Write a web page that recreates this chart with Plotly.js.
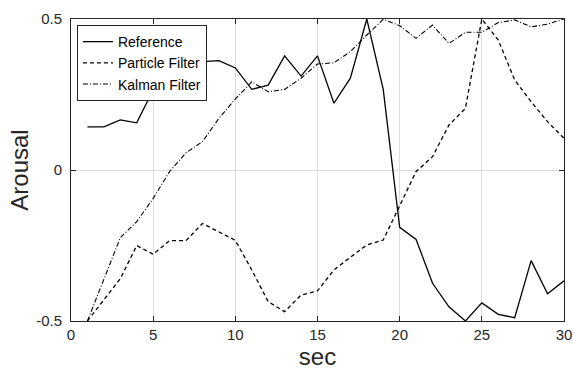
<!DOCTYPE html>
<html><head><meta charset="utf-8">
<script src="https://cdn.plot.ly/plotly-3.0.1.min.js"></script>
<style>html,body{margin:0;padding:0;background:#fff}#chart{width:573px;height:370px}</style>
</head><body><div id="chart"></div>
<script>
const seconds = [1,2,3,4,5,6,7,8,9,10,11,12,13,14,15,16,17,18,19,20,21,22,23,24,25,26,27,28,29,30];
const referenceVals = [0.143,0.143,0.166,0.156,0.265,0.30,0.345,0.359,0.362,0.338,0.267,0.281,0.378,0.311,0.378,0.221,0.304,0.5,0.267,-0.19,-0.23,-0.375,-0.453,-0.5,-0.44,-0.478,-0.489,-0.30,-0.41,-0.367];
const particleVals = [-0.5,-0.43,-0.36,-0.25,-0.279,-0.234,-0.234,-0.177,-0.204,-0.233,-0.331,-0.436,-0.469,-0.414,-0.40,-0.331,-0.289,-0.248,-0.232,-0.121,-0.005,0.044,0.149,0.204,0.5,0.43,0.298,0.226,0.16,0.105];
const kalmanVals = [-0.5,-0.36,-0.224,-0.171,-0.094,-0.005,0.057,0.094,0.171,0.235,0.292,0.259,0.267,0.304,0.351,0.355,0.392,0.447,0.499,0.478,0.436,0.48,0.419,0.456,0.456,0.488,0.497,0.474,0.483,0.5];
const seriesNames = ['Reference','Particle Filter','Kalman Filter'];
const xTicks = [0,5,10,15,20,25,30];
const yTicks = [-0.5,0,0.5];
const yTickText = ['-0.5','0','0.5'];

const font = 'Liberation Sans, Arial, Helvetica, sans-serif';
const traces = [
  {x: seconds, y: referenceVals, name: seriesNames[0], mode:'lines', line:{color:'#000', width:1.3}},
  {x: seconds, y: particleVals, name: seriesNames[1], mode:'lines', line:{color:'#000', width:1.3, dash:'4px,3px'}},
  {x: seconds, y: kalmanVals, name: seriesNames[2], mode:'lines', line:{color:'#000', width:1.1, dash:'5px,2px,1px,2px'}}
];
const axisCommon = {
  showline:true, linecolor:'#262626', linewidth:1, mirror:'ticks',
  ticks:'inside', ticklen:5, tickcolor:'#262626', tickwidth:1,
  showgrid:true, gridcolor:'#dcdcdc', gridwidth:1, zeroline:false,
  tickfont:{family:font, size:15, color:'#262626'}
};
const layout = {
  width:573, height:370,
  margin:{l:71, r:9, t:19, b:49},
  paper_bgcolor:'#fff', plot_bgcolor:'#fff',
  font:{family:font, color:'#262626'},
  showlegend:true,
  legend:{x:0.012, y:0.98, xanchor:'left', yanchor:'top', bgcolor:'#fff', bordercolor:'#262626', borderwidth:1,
    font:{family:font, size:14, color:'#000'}, tracegroupgap:0, itemwidth:30},
  xaxis: Object.assign({}, axisCommon, {range:[0,30], tickvals:xTicks, ticktext:xTicks.map(String),
    title:{text:'sec', font:{family:font, size:24, color:'#262626'}, standoff:12}}),
  yaxis: Object.assign({}, axisCommon, {range:[-0.5,0.5], tickvals:yTicks, ticktext:yTickText, ticklabelstandoff:5,
    title:{text:'Arousal', font:{family:font, size:24, color:'#262626'}, standoff:0}})
};
Plotly.newPlot('chart', traces, layout, {displayModeBar:false, staticPlot:true});
</script></body></html>
